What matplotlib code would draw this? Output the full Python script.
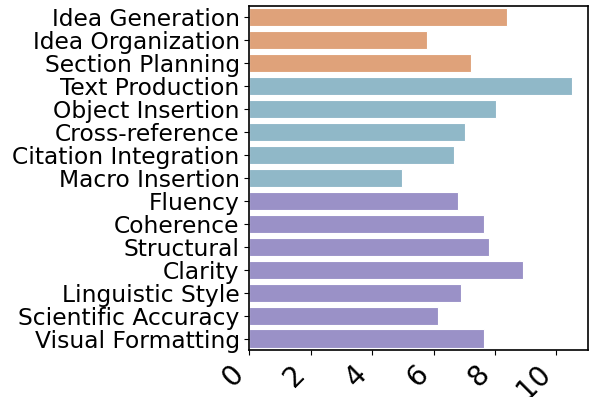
import matplotlib
matplotlib.use("Agg")
import matplotlib.pyplot as plt

categories = ["Idea Generation", "Idea Organization", "Section Planning",
              "Text Production", "Object Insertion", "Cross-reference",
              "Citation Integration", "Macro Insertion", "Fluency", "Coherence",
              "Structural", "Clarity", "Linguistic Style", "Scientific Accuracy",
              "Visual Formatting"]
values = [8.40, 5.80, 7.23, 10.50, 8.03, 7.01, 6.65, 4.97, 6.78, 7.63,
          7.82, 8.91, 6.90, 6.14, 7.65]
groups = ["plan"] * 3 + ["write"] * 5 + ["revise"] * 7
group_colors = {"plan": "#DFA27A", "write": "#90B8C8", "revise": "#9A91C7"}
xticks = [0, 2, 4, 6, 8, 10]

fig = plt.figure(figsize=(5.98, 3.97), dpi=100)
ax = fig.add_axes([0.417, 0.118, 0.566, 0.868])
ypos = list(range(len(categories)))
ax.barh(ypos, values, height=0.8, color=[group_colors[g] for g in groups],
        edgecolor="white", linewidth=0.8)
ax.set_yticks(ypos)
ax.set_yticklabels(categories, fontsize=16.8)
ax.set_ylim(len(categories) - 0.5, -0.5)
ax.set_xlim(0, max(values) * 1.05)
ax.set_xticks(xticks)
ax.set_xticklabels([str(t) for t in xticks], fontsize=20, rotation=45, ha="right")
for s in ax.spines.values():
    s.set_linewidth(1.2)
fig.savefig("out.png", dpi=100)
